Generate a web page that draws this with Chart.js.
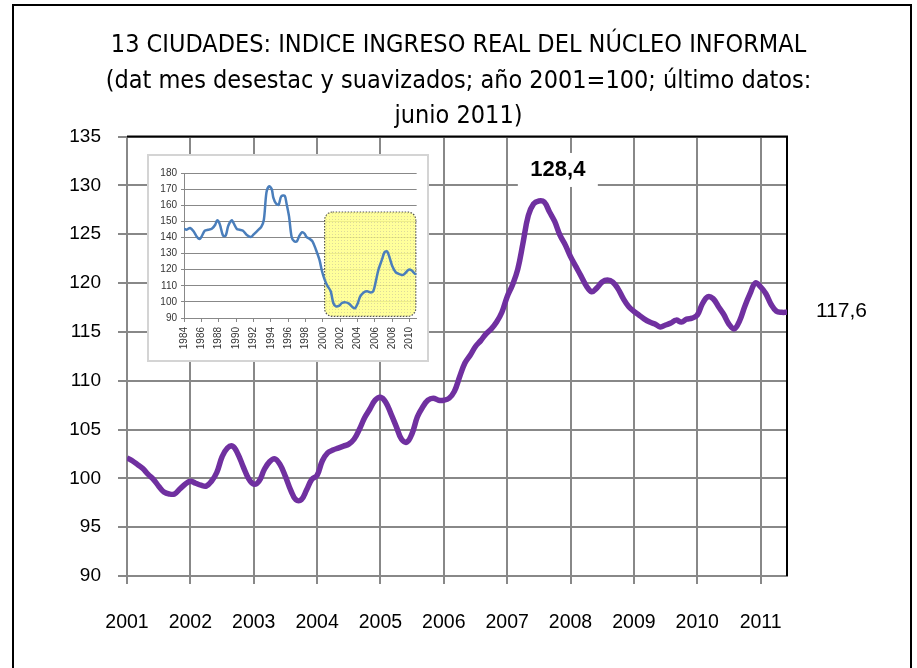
<!DOCTYPE html>
<html>
<head>
<meta charset="utf-8">
<script src="https://cdn.jsdelivr.net/npm/chart.js@4.4.1/dist/chart.umd.min.js"></script>
<style>
    html, body { margin: 0; padding: 0; background: #fff; }
    #wrap { position: relative; width: 917px; height: 668px; overflow: hidden; }
    #mainChart { position: absolute; left: 0; top: 0; }
    #insetBox { position: absolute; left: 147px; top: 154px; width: 278px; height: 204px; border: 2px solid #d4d4d4; background: #fff; }
    #insetChart { display: block; }
</style>
</head>
<body>
<div id="wrap">
    <canvas id="mainChart" width="917" height="668"></canvas>
    <div id="insetBox"><canvas id="insetChart" width="278" height="204"></canvas></div>
</div>
<script>
// Title and labels
const titleLines = [
    '13 CIUDADES: INDICE INGRESO REAL DEL NÚCLEO INFORMAL',
    '(dat mes desestac y suavizados; año 2001=100; último datos:',
    'junio 2011)'
];
const yearLabels = ['2001', '2002', '2003', '2004', '2005', '2006', '2007', '2008', '2009', '2010', '2011'];
const peakLabel = '128,4';
const lastLabel = '117,6';

// Monthly index (2001=100), Jan 2001 - Jun 2011
const v2001 = [102.1, 101.8, 101.4, 101.0, 100.4, 99.9, 99.2, 98.6, 98.4, 98.4, 98.9, 99.4];
const v2002 = [99.7, 99.5, 99.3, 99.2, 99.7, 100.6, 102.2, 103.1, 103.3, 102.5, 101.2, 100.0];
const v2003 = [99.4, 99.7, 100.9, 101.7, 102.0, 101.4, 100.2, 98.8, 97.8, 97.8, 98.8, 99.9];
const v2004 = [100.3, 101.8, 102.6, 102.9, 103.1, 103.3, 103.5, 104.0, 105.0, 106.2, 107.1, 108.0];
const v2005 = [108.3, 107.8, 106.6, 105.3, 104.0, 103.7, 104.6, 106.3, 107.3, 108.0, 108.2, 108.0];
const v2006 = [108.0, 108.2, 108.9, 110.4, 111.8, 112.6, 113.5, 114.1, 114.8, 115.3, 116.0, 117.0];
const v2007 = [118.6, 119.8, 121.4, 124.1, 126.9, 128.1, 128.4, 128.3, 127.3, 126.3, 124.9, 123.9];
const v2008 = [122.7, 121.7, 120.7, 119.7, 119.1, 119.5, 120.1, 120.3, 120.1, 119.4, 118.4, 117.6];
const v2009 = [117.1, 116.7, 116.3, 116.0, 115.8, 115.5, 115.7, 115.9, 116.2, 116.0, 116.3, 116.4];
const v2010 = [116.7, 117.9, 118.6, 118.4, 117.6, 116.8, 115.8, 115.3, 116.1, 117.6, 118.9, 120.0];
const v2011 = [119.6, 118.9, 117.8, 117.1, 117.0, 117.0];

// Inset: long series 1984-2010 (1984 base)
const insetTickLabels = ['1984', '1986', '1988', '1990', '1992', '1994', '1996', '1998', '2000', '2002', '2004', '2006', '2008', '2010'];
const insetYears = [
    1984.0, 1984.3, 1984.7, 1985.1, 1985.5, 1985.8, 1986.0, 1986.4, 1986.8, 1987.2,
    1987.6, 1987.8, 1988.1, 1988.5, 1988.8, 1989.1, 1989.5, 1989.7, 1990.1, 1990.4,
    1990.8, 1991.2, 1991.7, 1992.0, 1992.5, 1992.9, 1993.2, 1993.5, 1993.8, 1994.1,
    1994.3, 1994.6, 1994.9, 1995.2, 1995.6, 1995.8, 1996.1, 1996.4, 1996.7, 1997.0,
    1997.3, 1997.6, 1997.9, 1998.1, 1998.5, 1998.8, 1999.2, 1999.6, 1999.9, 2000.2,
    2000.5, 2000.9, 2001.2, 2001.5, 2001.9, 2002.2, 2002.6, 2003.0, 2003.4, 2003.7,
    2004.0, 2004.3, 2004.7, 2005.1, 2005.5, 2005.8, 2006.1, 2006.4, 2006.8, 2007.1,
    2007.4, 2007.7, 2008.0, 2008.4, 2008.7, 2009.2, 2009.5, 2009.9, 2010.2, 2010.6,
    2010.8
];
const insetValues = [
    145.4, 144.8, 145.9, 143.8, 140.3, 139.0, 140.3, 144.2, 144.8, 145.4,
    147.9, 150.6, 148.6, 141.1, 141.1, 147.3, 150.6, 149.0, 145.2, 144.8,
    144.2, 141.7, 140.3, 141.7, 144.4, 146.5, 151.0, 168.0, 171.7, 170.1,
    164.5, 161.0, 160.3, 165.5, 165.9, 161.4, 153.1, 140.3, 137.6, 137.6,
    141.1, 143.2, 142.3, 140.3, 139.0, 137.6, 132.4, 126.2, 119.0, 113.8,
    110.1, 106.6, 99.3, 97.2, 97.7, 99.3, 99.7, 98.9, 96.8, 96.0,
    98.9, 103.4, 105.9, 106.6, 105.9, 106.6, 112.8, 120.0, 126.2, 130.8,
    131.4, 127.2, 122.1, 118.3, 117.5, 116.7, 117.9, 120.0, 119.6, 117.5,
    117.2
];

const indexValues = [].concat(v2001, v2002, v2003, v2004, v2005, v2006, v2007, v2008, v2009, v2010, v2011);

const tickFont = 'Liberation Sans, Arial, sans-serif';
const titleFont = '"Liberation Sans Narrow", "DejaVu Sans Condensed", sans-serif';

// plot area border (top/right black) and outer chart frame
const framePlugin = {
    id: 'frame',
    beforeDatasetsDraw(chart) {
        const { ctx, chartArea: a } = chart;
        ctx.save();
        ctx.strokeStyle = '#000';
        ctx.lineWidth = 2;
        ctx.beginPath();
        ctx.moveTo(a.left, a.top);
        ctx.lineTo(a.right, a.top);
        ctx.lineTo(a.right, a.bottom);
        ctx.stroke();
        ctx.restore();
    },
    afterDraw(chart) {
        const ctx = chart.ctx;
        ctx.save();
        ctx.strokeStyle = '#000';
        ctx.lineWidth = 2;
        ctx.strokeRect(13, 5, 898, 700);
        ctx.restore();
    }
};

// data labels for the peak and the last point
const valueLabels = {
    id: 'valueLabels',
    afterDatasetsDraw(chart) {
        const ctx = chart.ctx;
        const meta = chart.getDatasetMeta(0);
        const peakIdx = indexValues.indexOf(Math.max(...indexValues));
        const peak = meta.data[peakIdx];
        const last = meta.data[meta.data.length - 1];

        ctx.save();
        ctx.fillStyle = '#fff';
        ctx.fillRect(peak.x + 19 - 40, peak.y - 31 - 17, 80, 34);
        ctx.fillStyle = '#000';
        ctx.textAlign = 'center';
        ctx.textBaseline = 'middle';
        ctx.font = 'bold 22px ' + tickFont;
        ctx.fillText(peakLabel, peak.x + 19, peak.y - 31);

        ctx.textAlign = 'left';
        ctx.font = '21px ' + tickFont;
        ctx.fillText(lastLabel, last.x + 29, last.y - 1);
        ctx.restore();
    }
};

new Chart(document.getElementById('mainChart'), {
    type: 'line',
    data: {
        datasets: [{
            data: indexValues.map((v, i) => ({ x: i, y: v })),
            borderColor: '#7030a0',
            borderWidth: 5.5,
            pointRadius: 0,
            tension: 0.4,
            fill: false
        }]
    },
    options: {
        responsive: false,
        animation: false,
        devicePixelRatio: 1,
        layout: { padding: 0 },
        plugins: {
            legend: { display: false },
            tooltip: { enabled: false },
            title: {
                display: true,
                text: titleLines,
                color: '#000',
                font: { family: titleFont, size: 25, weight: 'normal', lineHeight: 1.42 },
                padding: { top: 28, bottom: 2 }
            }
        },
        scales: {
            x: {
                type: 'linear',
                min: 0,
                max: indexValues.length - 1,
                afterFit: s => { s.height = 92; },
                grid: { color: '#888', lineWidth: 2, tickLength: 8 },
                border: { color: '#888', width: 2 },
                ticks: {
                    stepSize: 12,
                    includeBounds: false,
                    autoSkip: false,
                    maxRotation: 0,
                    padding: 27,
                    color: '#000',
                    font: { family: tickFont, size: 19.5 },
                    callback: v => yearLabels[v / 12]
                }
            },
            y: {
                min: 90,
                max: 135,
                afterFit: s => { s.width = 127; },
                grid: { color: '#888', lineWidth: 2, tickLength: 9 },
                border: { color: '#888', width: 2 },
                ticks: {
                    stepSize: 5,
                    padding: 17,
                    color: '#000',
                    font: { family: tickFont, size: 19 }
                }
            },
            // empty axis that only reserves room for the end label
            yRight: {
                position: 'right',
                afterFit: s => { s.width = 130; },
                grid: { display: false },
                border: { display: false },
                ticks: { display: false }
            }
        }
    },
    plugins: [framePlugin, valueLabels]
});

// yellow shaded zone of the inset (2000 - 2010)
const yellowPattern = (() => {
    const c = document.createElement('canvas');
    c.width = 3; c.height = 3;
    const g = c.getContext('2d');
    g.fillStyle = '#ffff8a';
    g.fillRect(0, 0, 3, 3);
    g.fillStyle = '#d8d48a';
    g.fillRect(0, 0, 1, 1);
    return c;
})();

const highlightBox = {
    id: 'highlightBox',
    beforeDatasetsDraw(chart) {
        const { ctx, scales: { x, y } } = chart;
        const left = x.getPixelForValue(2000.2);
        const right = x.getPixelForValue(2010.7);
        const top = y.getPixelForValue(155.8);
        const bottom = y.getPixelForValue(91);
        ctx.save();
        ctx.beginPath();
        ctx.roundRect(left, top, right - left, bottom - top, 8);
        ctx.globalAlpha = 0.85;
        ctx.fillStyle = ctx.createPattern(yellowPattern, 'repeat');
        ctx.fill();
        ctx.globalAlpha = 1;
        ctx.setLineDash([1.5, 1.5]);
        ctx.strokeStyle = '#555';
        ctx.lineWidth = 1.2;
        ctx.stroke();
        ctx.restore();
    }
};

new Chart(document.getElementById('insetChart'), {
    type: 'line',
    data: {
        datasets: [{
            data: insetYears.map((yr, i) => ({ x: yr, y: insetValues[i] })),
            borderColor: '#4a7ebb',
            borderWidth: 2.5,
            pointRadius: 0,
            tension: 0.3,
            fill: false
        }]
    },
    options: {
        responsive: false,
        animation: false,
        devicePixelRatio: 1,
        layout: { padding: { top: 17, right: 10, left: 0, bottom: 0 } },
        plugins: {
            legend: { display: false },
            tooltip: { enabled: false }
        },
        scales: {
            x: {
                type: 'linear',
                min: 1984,
                max: 2010.8,
                afterFit: s => { s.height = 42; },
                grid: { drawOnChartArea: false, color: '#888', tickLength: 4 },
                border: { color: '#888' },
                ticks: {
                    stepSize: 2,
                    includeBounds: false,
                    autoSkip: false,
                    minRotation: 90,
                    maxRotation: 90,
                    padding: 5,
                    color: '#333',
                    font: { family: tickFont, size: 10 },
                    callback: v => insetTickLabels[(v - 1984) / 2]
                }
            },
            y: {
                min: 90,
                max: 180,
                afterFit: s => { s.width = 35; },
                grid: { color: '#888', tickLength: 3 },
                border: { color: '#888' },
                ticks: {
                    stepSize: 10,
                    padding: 4,
                    color: '#333',
                    font: { family: tickFont, size: 10 }
                }
            }
        }
    },
    plugins: [highlightBox]
});
</script>
</body>
</html>
